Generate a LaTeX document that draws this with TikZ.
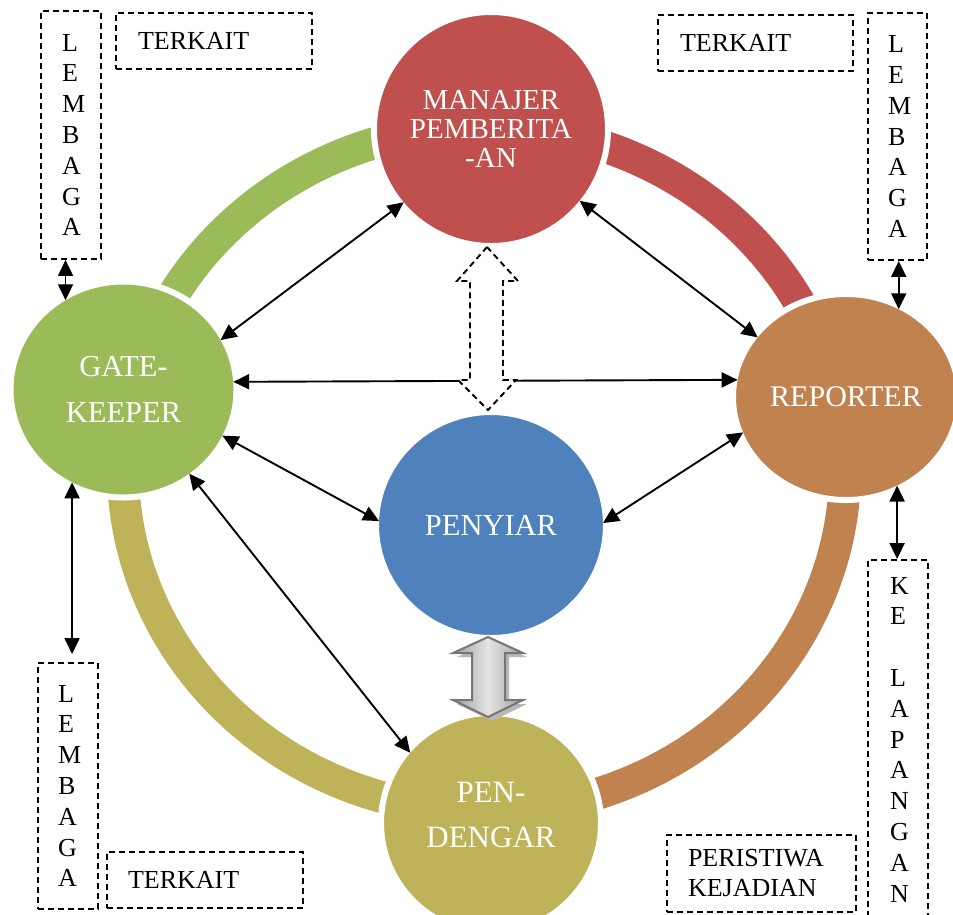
\documentclass[tikz,border=0pt]{standalone}
\usepackage{fontspec}
\setmainfont{Liberation Serif}
\usetikzlibrary{arrows.meta,shapes.geometric}
\definecolor{cRed}{HTML}{C0504D}
\definecolor{cGreen}{HTML}{9BBB59}
\definecolor{cBrown}{HTML}{C0834F}
\definecolor{cBlue}{HTML}{4F81BD}
\definecolor{cOlive}{HTML}{BFB35A}
\definecolor{gEdge}{HTML}{767676}
\definecolor{gDark}{HTML}{A0A0A0}
\definecolor{gLight}{HTML}{E4E4E4}
\definecolor{gShadow}{HTML}{B8B8B8}
\begin{document}
\begin{tikzpicture}[x=1pt,y=-1pt,
  bub/.style={ellipse, inner sep=0pt, outer sep=-3pt, draw=white, line width=6pt, text=white, align=center},
  dbl/.style={arrows={Triangle[length=16pt,width=15pt]-Triangle[length=16pt,width=15pt]}, line width=1.9pt, draw=black},
  dbox/.style={draw=black, dash pattern=on 6pt off 4pt, line width=1.9pt, align=left, inner ysep=0pt, font=\fontsize{26}{30.8}\selectfont},
  ring/.style={line width=32pt}]
\useasboundingbox (0,0) rectangle (953,914);

% ring arcs
\coordinate (rc) at (484,469);
\draw[ring, cGreen] (rc) ++(200:361 and 342) arc[start angle=200, end angle=260, x radius=361, y radius=342];
\draw[ring, cRed] (rc) ++(280:361 and 342) arc[start angle=280, end angle=340, x radius=361, y radius=342];
\draw[ring, cBrown] (rc) ++(-5:361 and 342) arc[start angle=-5, end angle=80, x radius=361, y radius=342];
\draw[ring, cOlive] (rc) ++(100:361 and 342) arc[start angle=100, end angle=185, x radius=361, y radius=342];

% circles
\node[bub, fill=cRed, minimum width=234pt, minimum height=234pt, font=\fontsize{29}{29}\selectfont] (mgr) at (491,129) {MANAJER\\PEMBERITA\\-AN};
\node[bub, fill=cGreen, minimum width=226pt, minimum height=216pt, font=\fontsize{30.5}{46}\selectfont] (gk) at (123.5,389.5) {GATE-\\KEEPER};
\node[bub, fill=cBrown, minimum width=226pt, minimum height=206pt, font=\fontsize{30}{36}\selectfont] (rep) at (846,397) {REPORTER};
\node[bub, fill=cBlue, minimum width=230pt, minimum height=226pt, font=\fontsize{30.5}{36}\selectfont] (pny) at (491,525) {PENYIAR};
\node[bub, fill=cOlive, minimum width=220pt, minimum height=220pt, font=\fontsize{31}{45}\selectfont, text depth=16pt] (pdg) at (491,823) {PEN-\\DENGAR};

% horizontal connector behind dashed arrow
\draw[dbl] (gk.4.4) -- (rep.171.6);
\draw[line width=1.9pt, dash pattern=on 6pt off 4pt, fill=white]
  (487,247) -- (518,281) -- (503,281) -- (503,380) -- (516,380) -- (488,410)
  -- (458,380) -- (470,380) -- (470,281) -- (457,281) -- cycle;

% connectors
\draw[dbl] (mgr.220) -- (gk.27);
\draw[dbl] (mgr.-39) -- (rep.146);
\draw[dbl] (gk.-25) -- (pny.178);
\draw[dbl] (rep.199) -- (pny.1.5);
\draw[dbl] (gk.-52) -- (pdg.139);

% gray block arrow
\fill[gShadow] (492,641) -- (527,657) -- (509,657) -- (509,704) -- (527,704) -- (492,721)
  -- (457,704) -- (476,704) -- (476,657) -- (457,657) -- cycle;
\shade[left color=gDark, right color=gDark, middle color=gLight, draw=gEdge, line width=2pt]
  (488,637) -- (523,653) -- (505,653) -- (505,700) -- (523,700) -- (488,717)
  -- (453,700) -- (472,700) -- (472,653) -- (453,653) -- cycle;

% dashed boxes
\node[dbox, minimum width=60pt, minimum height=248pt, text width=18pt, inner xsep=21pt] (lemTL) at (71,135) {L\\E\\M\\B\\A\\G\\A};
\node[dbox, minimum width=196pt, minimum height=56pt, text width=152pt, inner xsep=22pt] (terTL) at (214,41) {TERKAIT};
\node[dbox, minimum width=195pt, minimum height=56pt, text width=151pt, inner xsep=22pt] (terTR) at (755.5,43) {TERKAIT};
\node[dbox, minimum width=59pt, minimum height=247pt, text width=19pt, inner xsep=20pt] (lemTR) at (897.5,136.5) {L\\E\\M\\B\\A\\G\\A};
\node[dbox, minimum width=60pt, minimum height=246pt, text width=20pt, inner xsep=20pt] (lemBL) at (68,786) {L\\E\\M\\B\\A\\G\\A};
\node[dbox, minimum width=196pt, minimum height=56pt, text width=154pt, inner xsep=21pt] (terBL) at (205,880) {TERKAIT};
\node[dbox, minimum width=60pt, minimum height=359pt, text width=16pt, inner xsep=22pt] (kel) at (898,739.5) {K\\E\\~\\L\\A\\P\\A\\N\\G\\A\\N};
\node[dbox, minimum width=189pt, minimum height=77pt, text width=147pt, inner xsep=21pt, font=\fontsize{26}{30}\selectfont] (per) at (761.5,873.5) {PERISTIWA\\KEJADIAN};

% box connectors
\draw[dbl] (lemTL.south -| gk.123) -- (gk.123);
\draw[dbl, shorten >=8pt] (gk.241) -- (lemBL.north -| gk.241);
\draw[dbl] (lemTR.south -| rep.59) -- (rep.59);
\draw[dbl] (rep.-60) -- (kel.north -| rep.-60);
\end{tikzpicture}
\end{document}
